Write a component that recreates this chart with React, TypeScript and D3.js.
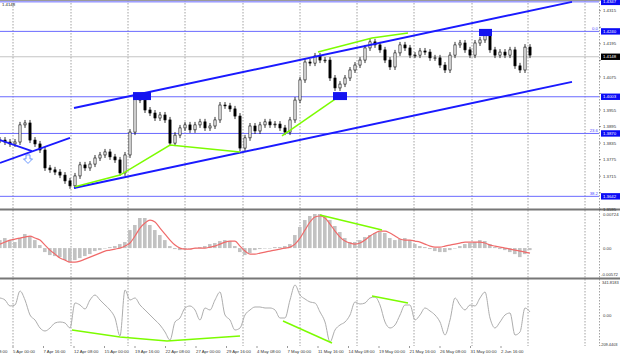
import React from "react";
import * as d3 from "d3";

// ---- DATA (H4 closes sampled along the chart) ----
const closes = [
  1.3846, 1.3839, 1.3832, 1.3839, 1.3901, 1.3908, 1.3846, 1.3832, 1.381, 1.3745,
  1.3738, 1.373, 1.3719, 1.3698, 1.368, 1.3716, 1.3756, 1.3745, 1.3759, 1.3781,
  1.3792, 1.3803, 1.3785, 1.3774, 1.3727, 1.3792, 1.3875, 1.4002, 1.3991, 1.3955,
  1.3944, 1.3926, 1.3937, 1.3919, 1.3835, 1.3864, 1.389, 1.3901, 1.3883, 1.3901,
  1.3912, 1.389, 1.3897, 1.3919, 1.3973, 1.397, 1.3959, 1.3933, 1.3817, 1.3854,
  1.3897, 1.3879, 1.3901, 1.3912, 1.3901, 1.3904, 1.389, 1.3875, 1.3919, 1.3991,
  1.4064, 1.4129, 1.4125, 1.4151, 1.4136, 1.4136, 1.4071, 1.4035, 1.4049, 1.4071,
  1.41, 1.4118, 1.4136, 1.418, 1.4202, 1.4191, 1.4173, 1.4136, 1.4111, 1.4162,
  1.4191, 1.418, 1.4154, 1.4154, 1.4169, 1.4165, 1.4144, 1.4144, 1.4118, 1.41,
  1.4154, 1.4191, 1.4198, 1.4173, 1.4154, 1.4198, 1.4209, 1.4231, 1.4173, 1.4154,
  1.4165, 1.4154, 1.4173, 1.4115, 1.41, 1.4183, 1.4154,
];

// MACD histogram and signal (x 1e-3)
const macdHist = [
  1.7, 2.13, 1.7, 1.28, 2.13, 2.98, 2.56, 1.7, 0.64, -0.85,
  -1.49, -1.7, -1.92, -2.56, -2.98, -2.56, -2.13, -1.7, -1.28, -0.64,
  -0.43, 0, 0.21, 0.43, 0.85, 1.28, 3.83, 4.9, 6.39, 6.39,
  4.9, 3.83, 2.77, 1.7, 0.43, -0.21, -0.43, -0.21, 0, 0,
  0.21, 0.43, 0.85, 1.07, 1.49, 1.7, 1.49, 0.43, -0.85, -1.49,
  -1.07, -0.43, -0.21, 0, 0, 0.21, 0.21, 0.43, 0.85, 2.77,
  4.47, 5.96, 6.82, 7.24, 7.24, 6.82, 5.96, 4.69, 3.41, 2.13,
  1.28, 1.28, 1.7, 2.34, 2.77, 3.2, 3.41, 3.2, 2.13, 1.7,
  1.92, 2.13, 1.7, 0.85, 0.43, 0.21, -0.21, -0.64, -0.85, -0.85,
  -0.43, 0, 0.43, 0.85, 1.07, 1.28, 1.7, 1.49, 0.85, 0.21,
  -0.21, -0.43, -0.85, -1.28, -1.92, -1.28, -0.43,
];
const macdSignal = [
  0.85, 1.28, 1.7, 1.92, 2.13, 2.34, 2.56, 2.13, 1.7, 0.64,
  -0.43, -1.28, -2.13, -2.56, -2.98, -2.98, -2.77, -2.34, -1.92, -1.49,
  -1.07, -0.64, -0.43, -0.21, 0, 0.43, 1.07, 2.56, 4.26, 5.33,
  5.96, 5.54, 4.26, 2.98, 1.7, 0.64, 0, -0.21, -0.21, 0,
  0, 0, 0.21, 0.43, 0.85, 1.28, 1.49, 1.49, 0.43, -0.64,
  -1.28, -1.28, -1.07, -0.85, -0.64, -0.43, -0.21, 0, 0.21, 0.85,
  2.13, 3.83, 5.54, 6.6, 6.82, 6.39, 5.11, 3.62, 2.34, 1.49,
  1.07, 0.85, 1.07, 1.7, 2.56, 3.2, 3.62, 3.62, 3.2, 2.56,
  1.92, 1.7, 1.7, 1.49, 1.28, 0.85, 0.43, 0.21, 0.21, 0.43,
  0.64, 0.85, 1.07, 1.28, 1.28, 1.28, 1.28, 1.07, 0.64, 0.43,
  0.21, 0, -0.21, -0.43, -0.64, -0.85, -1.07,
];
// CCI
const cci = [
  199.6, 181.8, 128.5, 137.4, 261.8, 181.8, 48.5, 4.0, -67.1, -93.8,
  -67.1, -22.7, -13.8, -22.7, -67.1, 155.1, 137.4, 101.8, 181.8, 226.2,
  181.8, 137.4, 92.9, 21.8, -138.2, 270.7, 181.8, 199.6, 137.4, 92.9,
  48.5, 4.0, -40.5, -102.7, -173.8, -13.8, 21.8, 110.7, 128.5, 92.9,
  4.0, 110.7, 92.9, 181.8, 252.9, 48.5, 4.0, -84.9, -67.1, 48.5,
  92.9, 119.6, 119.6, 110.7, 110.7, 92.9, 21.8, 21.8, 181.8, 315.1,
  226.2, 190.7, 164.0, 155.1, 75.1, -13.8, -191.6, -84.9, -40.5, -13.8,
  48.5, 164.0, 146.2, 155.1, 199.6, 208.5, 137.4, -13.8, -67.1, -40.5,
  48.5, 137.4, 137.4, 4.0, 48.5, 110.7, 84.0, 48.5, -13.8, -129.3,
  4.0, 199.6, 137.4, 92.9, 137.4, 128.5, 199.6, 252.9, 21.8, -67.1,
  -13.8, 48.5, 66.2, -129.3, -102.7, 110.7, 75.1,
];

const priceTicks = [1.4315, 1.4255, 1.4195, 1.4135, 1.4075, 1.4015, 1.3955, 1.3895, 1.3835, 1.3775, 1.3715, 1.3655, 1.3595];
const levelPrices = [1.4347, 1.424, 1.4003, 1.387, 1.3642];
const levelLabels = ["1.4347", "1.4240", "1.4003", "1.3870", "1.3642"];
const levelFib = ["", "0.0", "", "23.6", "38.2"];
const currentPrice = 1.4148;
const currentLabel = "1.4148";

const dateLabels = [
  "31 Mar 08:00", "5 Apr 00:00", "7 Apr 16:00", "12 Apr 08:00", "15 Apr 00:00", "19 Apr 16:00",
  "22 Apr 08:00", "27 Apr 00:00", "29 Apr 16:00", "4 May 08:00", "7 May 00:00", "11 May 16:00",
  "14 May 08:00", "19 May 00:00", "21 May 16:00", "26 May 08:00", "31 May 00:00", "2 Jun 16:00",
];
const dateLabelIdx = [-3.6, 2.6, 8.7, 14.8, 20.9, 27.0, 33.1, 39.2, 45.3, 51.4, 57.5, 63.6, 69.7, 75.8, 81.9, 88.0, 94.1, 100.2];
const gridIdx = [2.6, 14.2, 25.6, 37.0, 48.6, 60.0, 71.4, 82.8, 94.4, 105.6, 117.0];

// Annotations in (bar index, value)
const channelUpper: [number, number][] = [[14.8, 1.3962], [114.4, 1.4347]];
const channelLower: [number, number][] = [[14.8, 1.3672], [114.4, 1.4057]];
const leftChannelA: [number, number][] = [[0, 1.3763], [14, 1.3854]];
const leftChannelB: [number, number][] = [[0, 1.3846], [6.4, 1.3806]];
const greenMain1: [number, number][] = [[15, 1.3677], [24, 1.3719], [34, 1.3828], [48, 1.3803]];
const greenMain2: [number, number][] = [[56.4, 1.3861], [67.6, 1.4002]];
const greenMain3: [number, number][] = [[63.6, 1.4165], [74.4, 1.4216], [81.6, 1.4234]];
const greenMacd: [number, number][] = [[64, 7.03], [76.4, 3.83]];
const greenCci1: [number, number][] = [[14.4, -84.9], [24, -147.1], [33.4, -182.7], [48, -138.2]];
const greenCci2: [number, number][] = [[56.6, -4.9], [66.4, -200.5]];
const greenCci3: [number, number][] = [[74.4, 217.4], [81.6, 155.1]];
const boxes: [number, number, number, number][] = [
  [26.6, 30.2, 1.402, 1.3991],
  [66.6, 69.4, 1.402, 1.3991],
  [95.8, 98.4, 1.4249, 1.4223],
];
const arrowPoint: [number, number] = [5.6, 1.3774];

const W = 620;
const H = 357;
const AX = 599;
const FONT = "'Liberation Sans', Arial, sans-serif";
const FS = 4.3;

export default function App() {
  const x = d3.scaleLinear().domain([0, 106]).range([0, 530]);
  const y = d3.scaleLinear().domain([1.3595, 1.4315]).range([209.3, 10.7]);
  const ym = d3.scaleLinear().domain([-5.72, 7.24]).range([275, 214]);
  const yc = d3.scaleLinear().domain([-209.44, 341.82]).range([344, 282]);

  const seg = (ys: d3.ScaleLinear<number, number>) =>
    d3.line<[number, number]>().x((d) => x(d[0])).y((d) => ys(d[1]));

  const sigLine = d3
    .line<number>()
    .x((_, i) => x(i))
    .y((d) => ym(d))
    .curve(d3.curveMonotoneX);
  const cciLine = d3
    .line<number>()
    .x((_, i) => x(i))
    .y((d) => yc(d))
    .curve(d3.curveMonotoneX);

  const green = "#7cfc00";
  const blue = "#1a1aff";
  const levelBlue = "#6a6aff";

  const labelYs = [...levelPrices, currentPrice].map((p) => y(p));
  const visibleTicks = priceTicks.filter((p) => labelYs.every((ly) => Math.abs(ly - y(p)) > 5.5));

  return (
    <div style={{ position: "fixed", left: 0, top: 0, width: W, height: H, background: "#fff" }}>
      <svg width={W} height={H} style={{ display: "block", fontFamily: FONT }}>
        <defs>
          <clipPath id="cMain"><rect x={0} y={0} width={AX} height={208} /></clipPath>
          <clipPath id="cMacd"><rect x={0} y={211} width={AX} height={66} /></clipPath>
          <clipPath id="cCci"><rect x={0} y={280} width={AX} height={66} /></clipPath>
        </defs>
        <rect width={W} height={H} fill="#fff" />

        {/* vertical dotted grid */}
        {gridIdx.filter((g) => x(g) < AX - 2).map((g, i) => (
          <line key={"g" + i} x1={x(g)} x2={x(g)} y1={0} y2={346} stroke="#8a8a8a" strokeWidth={0.8} strokeDasharray="1.5,1.5" />
        ))}
        <line x1={AX + 0.5} x2={AX + 0.5} y1={0} y2={346} stroke="#8a8a8a" strokeWidth={0.8} strokeDasharray="1.5,1.5" />

        {/* panel borders */}
        <line x1={0} x2={W} y1={0.5} y2={0.5} stroke="#9a9a9a" strokeWidth={1} />
        <line x1={0} x2={W} y1={209.5} y2={209.5} stroke="#777" strokeWidth={2} />
        <line x1={0} x2={W} y1={278.5} y2={278.5} stroke="#777" strokeWidth={2} />

        {/* MAIN PANEL */}
        <g clipPath="url(#cMain)">
          {levelPrices.map((p, i) => (
            <line key={"l" + i} x1={0} x2={AX} y1={y(p)} y2={y(p)} stroke={levelBlue} strokeWidth={1} />
          ))}
          <line x1={0} x2={AX} y1={y(currentPrice)} y2={y(currentPrice)} stroke="#b5b5b5" strokeWidth={0.8} />
          {closes.map((c, i) => {
            const o = i > 0 ? closes[i - 1] : c;
            const top = y(Math.max(o, c));
            const bot = y(Math.min(o, c));
            const up = c >= o;
            return (
              <g key={"k" + i}>
                <line x1={x(i)} x2={x(i)} y1={top - 3} y2={bot + 3} stroke="#000" strokeWidth={0.8} />
                <rect x={x(i) - 1.1} y={top} width={2.2} height={Math.max(bot - top, 0.8)} fill={up ? "#fff" : "#000"} stroke="#000" strokeWidth={0.6} />
              </g>
            );
          })}
          {/* channels */}
          <path d={seg(y)(channelUpper) || ""} stroke={blue} strokeWidth={2} fill="none" />
          <path d={seg(y)(channelLower) || ""} stroke={blue} strokeWidth={2} fill="none" />
          <path d={seg(y)(leftChannelA) || ""} stroke={blue} strokeWidth={1.8} fill="none" />
          <path d={seg(y)(leftChannelB) || ""} stroke={blue} strokeWidth={1.8} fill="none" />
          {/* green divergence lines */}
          {[greenMain1, greenMain2, greenMain3].map((g, i) => (
            <path key={"gm" + i} d={seg(y)(g) || ""} stroke={green} strokeWidth={1.5} fill="none" />
          ))}
          {/* boxes */}
          {boxes.map((b, i) => (
            <rect key={"b" + i} x={x(b[0])} y={y(b[2])} width={x(b[1]) - x(b[0])} height={y(b[3]) - y(b[2])} fill="#1414f0" />
          ))}
          {/* arrow */}
          <path
            d={`M${x(arrowPoint[0]) - 2},${y(arrowPoint[1]) - 5} h4 v4 h2.5 l-4.5,4.5 l-4.5,-4.5 h2.5 z`}
            fill="#fff"
            stroke="#5a8cff"
            strokeWidth={0.9}
          />
        </g>
        {/* top-left caption */}
        <text x={2} y={5.5} fontSize={FS} fill="#222">{currentLabel}</text>

        {/* fib labels */}
        {levelPrices.map((p, i) =>
          levelFib[i] ? (
            <text key={"f" + i} x={AX - 1} y={y(p) - 1} fontSize={FS} fill="#4a4aff" textAnchor="end">{levelFib[i]}</text>
          ) : null
        )}

        {/* MACD PANEL */}
        <g clipPath="url(#cMacd)">
          {macdHist.map((v, i) => (
            <rect key={"h" + i} x={x(i) - 2} y={Math.min(ym(0), ym(v))} width={3.6} height={Math.max(Math.abs(ym(v) - ym(0)), 0.5)} fill="#c2c2c2" />
          ))}
          <path d={sigLine(macdSignal) || ""} stroke="#f06a6a" strokeWidth={1.2} fill="none" />
          <path d={seg(ym)(greenMacd) || ""} stroke={green} strokeWidth={1.5} fill="none" />
        </g>

        {/* CCI PANEL */}
        <g clipPath="url(#cCci)">
          <path d={cciLine(cci) || ""} stroke="#adadad" strokeWidth={1} fill="none" />
          {[greenCci1, greenCci2, greenCci3].map((g, i) => (
            <path key={"gc" + i} d={seg(yc)(g) || ""} stroke={green} strokeWidth={1.5} fill="none" />
          ))}
        </g>

        {/* RIGHT AXIS - price */}
        {priceTicks.map((p, i) => (
          <line key={"tm" + i} x1={AX} x2={AX + 2} y1={y(p)} y2={y(p)} stroke="#555" strokeWidth={0.6} />
        ))}
        {visibleTicks.map((p, i) => (
          <text key={"t" + i} x={603} y={y(p) + 1.6} fontSize={FS} fill="#333">{p.toFixed(4)}</text>
        ))}
        {levelPrices.map((p, i) => (
          <g key={"lb" + i}>
            <rect x={601} y={y(p) - 3.2} width={19} height={6.4} fill="#0c0cf5" />
            <text x={603} y={y(p) + 1.6} fontSize={FS} fill="#fff">{levelLabels[i]}</text>
          </g>
        ))}
        <rect x={601} y={y(currentPrice) - 3.2} width={19} height={6.4} fill="#000" />
        <text x={603} y={y(currentPrice) + 1.6} fontSize={FS} fill="#fff">{currentLabel}</text>

        {/* RIGHT AXIS - MACD */}
        <text x={603} y={ym(7.24) + 1.6} fontSize={FS} fill="#333">0.00724</text>
        <text x={603} y={ym(0) + 1.6} fontSize={FS} fill="#333">0.00</text>
        <text x={601} y={ym(-5.72) + 0.5} fontSize={FS} fill="#333">-0.00572</text>

        {/* RIGHT AXIS - CCI */}
        <text x={602} y={yc(341.82) + 2} fontSize={4} fill="#333">341.8183</text>
        <text x={603} y={yc(0) - 3} fontSize={FS} fill="#333">0.00</text>
        <text x={600} y={yc(-209.44) + 1.5} fontSize={3.9} fill="#333">-209.4403</text>

        {/* DATE AXIS */}
        {dateLabels.map((d, i) => (
          <g key={"d" + i}>
            <line x1={x(dateLabelIdx[i])} x2={x(dateLabelIdx[i])} y1={346} y2={348} stroke="#555" strokeWidth={0.6} />
            <text x={x(dateLabelIdx[i])} y={353} fontSize={FS} fill="#333">{d}</text>
          </g>
        ))}
      </svg>
    </div>
  );
}
